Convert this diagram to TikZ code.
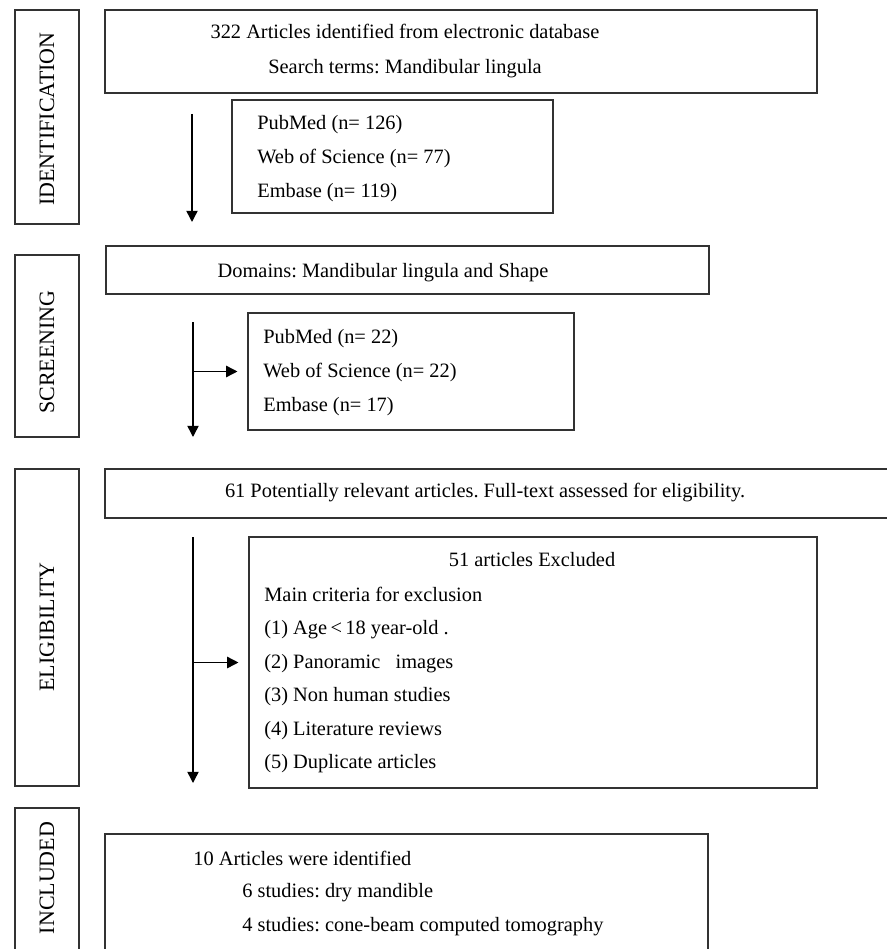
\documentclass[tikz,border=0pt]{standalone}
\usepackage{fontspec}
\setmainfont{Liberation Serif}
\frenchspacing
\usepackage{tikz}
\usetikzlibrary{positioning,arrows.meta,fit}
\definecolor{borde}{RGB}{50,50,50}

\begin{document}
\begin{tikzpicture}[
  x=0.02cm, y=-0.02cm,
  caja/.style={rectangle, draw=borde, line width=0.6pt, inner sep=0pt},
  texto/.style={inner sep=0pt, font=\fontsize{11.6}{19.4}\selectfont},
  fase/.style={inner sep=0pt, font=\fontsize{12.5}{14}\selectfont, rotate=90},
  flecha/.style={-{Triangle[length=6.4pt, width=6.4pt]}, line width=0.85pt, color=black}
]
\useasboundingbox (0,0) rectangle (886,949);
% fases a la izquierda
\node[caja, fit={(15,10) (79,224)}] (fid) {};
\node[caja, fit={(15,255) (79,437)}] (fsc) {};
\node[caja, fit={(15,469) (79,786)}] (fel) {};
\node[caja, fit={(15,808) (79,980)}] (fin) {};
\node[fase] at (47,119) {IDENTIFICATION};
\node[fase] at (47,352) {SCREENING};
\node[fase] at (47,627) {ELIGIBILITY};
\node[fase] at (47,878) {INCLUDED};
% cajas
\node[caja, fit={(105,10) (817,93)}] (b1) {};
\node[caja, fit={(232,100) (553,213)}] (b1b) {};
\node[caja, fit={(106,246) (709,294)}] (b2) {};
\node[caja, fit={(248,313) (574,430)}] (b2b) {};
\node[caja, fit={(105,469) (900,518)}] (b3) {};
\node[caja, fit={(249,537) (817,788)}] (b3b) {};
\node[caja, fit={(105,834) (708,980)}] (b4) {};
% textos
\node[texto, align=center] (t1) at (405,51) {322 Articles identified from electronic database\\Search terms: Mandibular lingula};
\node[texto, align=left, anchor=west] (t1b) at (257,159) {PubMed (n= 126)\\Web of Science (n= 77)\\Embase (n= 119)};
\node[texto] (t2) at (383,273) {Domains: Mandibular lingula and Shape};
\node[texto, align=left, anchor=west] (t2b) at (263,373) {PubMed (n= 22)\\Web of Science (n= 22)\\Embase (n= 17)};
\node[texto] (t3) at (485,493) {61 Potentially relevant articles. Full-text assessed for eligibility.};
\node[texto] (t3a) at (532,560) {51 articles Excluded};
\node[texto, align=left, anchor=west, font=\fontsize{11.6}{19.1}\selectfont] (t3b) at (264,680) {Main criteria for exclusion\\(1) Age\,<\,18 year-old .\\(2) Panoramic\ \ \ images\\(3) Non human studies\\(4) Literature reviews\\(5) Duplicate articles};
\node[texto, anchor=west] (t4) at (193,858) {10 Articles were identified};
\node[texto, align=left, anchor=west] (t4b) at (242,910) {6 studies: dry mandible\\4 studies: cone-beam computed tomography};
% flechas
\coordinate (a1s) at (192,114);
\coordinate (a1e) at (192,222);
\coordinate (a2s) at (193,322);
\coordinate (a2e) at (193,437);
\coordinate (a3s) at (193,537);
\coordinate (a3e) at (193,783);
\draw[flecha] (a1s) -- (a1e);
\draw[flecha] (a2s) -- (a2e);
\draw[flecha] (a2s |- b2b.west) -- ([xshift=-0.2cm]b2b.west);
\draw[flecha] (a3s) -- (a3e);
\draw[flecha] (a3s |- b3b.west) -- ([xshift=-0.2cm]b3b.west);
\end{tikzpicture}
\end{document}
